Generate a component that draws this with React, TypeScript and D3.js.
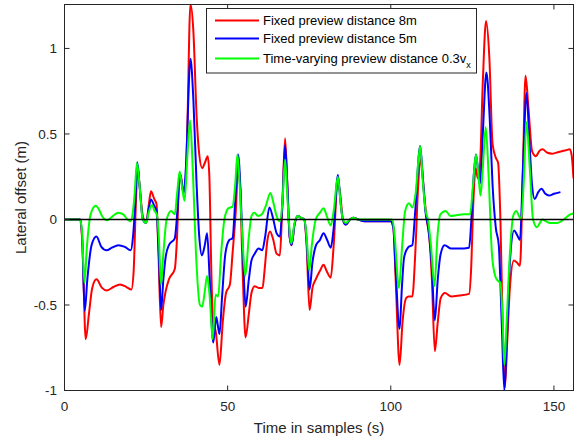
import React from "react";
import * as d3 from "d3";

const xTicks = [0, 50, 100, 150];
const yTicks = [-1, -0.5, 0, 0.5, 1];
const yTickLabels = ["-1", "-0.5", "0", "0.5", "1"];

const tRed = [0,4.8,5.5,6.5,7.5,8.5,9.8,11.5,13,15,17,19,20.5,21.2,21.8,22.4,23,24,25,25.8,26.5,27.5,28.2,28.8,29.6,30.3,31,32,33.8,34.5,35.2,35.6,36.3,37,37.6,38.6,39.5,40.5,41.3,42.2,43,43.9,44.4,45,45.6,46.3,47.5,48.5,49.5,50.7,51.5,52.5,53.3,53.8,54.6,55.5,56.5,57.3,58.3,59.5,60.7,61.3,62.2,63,64,65,66,66.7,67.6,68.3,69,69.6,70.5,71.5,72.5,73.5,74.2,75.1,76,77,78.3,79.4,80.3,81.6,82.5,83.7,84.5,85.3,86.2,87.5,88.5,90,92,100,100.8,101.5,102.7,103.6,104.7,105.5,106.6,107.5,108.4,109.2,110,111,111.8,112.6,113.5,114.4,115.3,116.6,118.5,121,124,124.6,125.3,126,126.7,127.3,128.2,129.2,130.2,131.2,132.2,132.9,133.6,134.4,135,135.6,136.5,137.7,138.6,139.6,140.4,141.3,142.2,143.3,144.5,145.5,146.5,148,149.5,151.5,153.7,154.8,155.4,156];
const vRed = [0,0,-0.15,-0.70,-0.55,-0.40,-0.35,-0.40,-0.415,-0.395,-0.38,-0.395,-0.41,-0.30,0.05,0.31,0.2,0.02,-0.02,0.08,0.165,0.12,0.09,-0.2,-0.63,-0.5,-0.42,-0.35,-0.29,-0.1,0.25,0.26,0.18,0.18,0.5,1.26,1.1,0.6,0.38,0.30,0.33,0.37,0.25,-0.3,-0.62,-0.65,-0.85,-0.6,-0.43,-0.38,-0.2,0.05,0.32,0.2,-0.3,-0.69,-0.55,-0.43,-0.39,-0.40,-0.40,-0.3,-0.12,-0.07,-0.12,-0.2,-0.21,0.05,0.475,0.2,-0.1,-0.15,-0.03,0.02,0.01,0.0,-0.15,-0.53,-0.4,-0.35,-0.30,-0.265,-0.30,-0.34,-0.15,0.22,0.15,0.0,-0.03,0.0,0.01,0.0,-0.01,-0.01,-0.05,-0.35,-0.85,-0.6,-0.46,-0.45,-0.45,-0.2,0.2,0.35,0.2,0.0,-0.1,-0.35,-0.77,-0.6,-0.46,-0.43,-0.45,-0.445,-0.435,-0.3,0.1,0.30,0.24,0.3,0.8,1.16,0.95,0.44,0.36,0.33,0.0,-0.7,-0.98,-0.75,-0.4,-0.24,-0.25,-0.27,0.2,0.84,0.65,0.40,0.37,0.40,0.41,0.39,0.385,0.395,0.405,0.41,0.38,0.24];

const tBlue = [0,4.8,5.4,6.2,7,8.3,9.8,11.3,12.9,14.5,16.5,18.5,20.3,21,21.7,22.3,23,24,25,25.8,26.5,27.5,28.2,28.9,29.6,30.3,31,32,33.8,34.6,35.4,36.5,37.2,38.6,39.5,40.5,41.3,42.1,43,43.7,44.5,45.6,46.5,47.5,48.3,49.3,50.5,51.5,52.3,53.2,54,54.7,55.5,56.5,57.3,58.3,59.5,60.6,61.5,62.8,64,65,66,66.8,67.6,68.3,69,69.6,70.5,71.5,72.5,73.5,74.2,75.1,76,77.1,78.3,79.4,80.5,81.6,82.5,83.8,84.6,85.3,86.2,87.5,88.5,90,92,100,100.8,101.5,102.7,103.4,104.1,105.5,106.6,107.5,109,109.8,110.6,111.5,112.5,113.5,114.4,115.3,116.5,118.5,121,124,124.7,125.4,126.1,126.8,127.4,128.2,129.3,130.3,131.2,132.2,133.1,134,134.8,135.6,136.5,137.8,138.7,139.6,140.5,141.6,142.5,143.3,144.1,145.2,146.2,147.4,148.5,150,152];
const vBlue = [0,0,-0.1,-0.535,-0.35,-0.15,-0.10,-0.16,-0.18,-0.165,-0.15,-0.16,-0.18,-0.1,0.1,0.335,0.2,0.0,-0.02,0.06,0.117,0.08,0.05,-0.2,-0.53,-0.35,-0.22,-0.15,-0.11,0.05,0.27,0.15,0.3,0.94,0.7,0.2,-0.1,-0.21,-0.15,-0.08,-0.35,-0.72,-0.57,-0.67,-0.45,-0.2,-0.12,-0.11,0.1,0.38,0.15,-0.2,-0.51,-0.35,-0.24,-0.20,-0.17,-0.18,-0.1,0.07,0.0,-0.08,-0.10,0.1,0.435,0.2,-0.1,-0.15,-0.03,0.02,0.01,0.0,-0.12,-0.41,-0.25,-0.15,-0.12,-0.08,-0.12,-0.165,-0.05,0.26,0.1,0.0,-0.03,0.0,0.01,0.0,-0.01,-0.01,-0.05,-0.3,-0.64,-0.4,-0.22,-0.16,-0.15,0.05,0.43,0.25,0.05,-0.05,-0.25,-0.59,-0.35,-0.2,-0.15,-0.17,-0.17,-0.165,0.0,0.25,0.38,0.28,0.21,0.5,0.86,0.6,0.2,-0.05,-0.15,-0.6,-1.0,-0.7,-0.25,-0.065,-0.09,-0.12,0.3,0.74,0.45,0.2,0.12,0.16,0.18,0.15,0.14,0.15,0.16];

const tGreen = [0,4.6,5.3,6.1,6.9,8,9.6,10.5,11.5,13,14.8,16.5,18,19.3,20.3,21,21.5,22.2,23,24,25,25.8,26.8,27.6,28.3,28.9,29.6,30.3,31.3,32.7,33.8,34.5,35.3,36.1,36.8,37.6,38.5,39.3,40.3,41.5,42.2,43,43.7,44.5,45.4,46.3,47.1,48,49,50.2,51.5,52.3,53,53.7,54.5,55.4,56.5,57.3,58.2,59.3,60.5,61.7,63.1,64,65,66,66.8,67.6,68.4,69.5,70.5,71.5,72.5,73.5,74.2,75,75.8,77,78.3,79.4,80.4,81.6,82.5,83.8,84.6,85.3,86.2,87.5,88.5,90,100.5,101.2,102.5,103.5,104.4,105.6,106.6,107.6,109,109.9,110.7,111.4,112.3,113.4,114.3,115.2,116.8,118.3,120,122.5,124.3,125.2,126.1,126.9,127.5,128.2,129.1,130,131,132,132.9,133.6,134.3,134.8,135.5,136.5,137.5,138.5,139.3,140,140.7,141.6,142.6,143.6,144.8,145.7,146.4,147.5,148.8,151,153,155,156];
const vGreen = [0,0,-0.05,-0.37,-0.15,0.03,0.08,0.06,0.02,-0.005,0.02,0.04,0.03,0.0,-0.01,0.05,0.15,0.33,0.2,0.0,-0.02,0.04,0.085,0.05,0.03,-0.1,-0.38,-0.2,0.0,0.05,0.03,0.15,0.28,0.18,0.11,0.35,0.58,0.3,-0.2,-0.5,-0.51,-0.42,-0.33,-0.45,-0.70,-0.44,-0.45,-0.2,0.0,0.065,0.075,0.2,0.38,0.2,-0.1,-0.33,-0.1,0.02,0.04,0.02,0.03,0.08,0.155,0.1,0.02,-0.01,0.1,0.35,0.1,-0.14,-0.02,0.02,0.01,0.0,-0.1,-0.30,-0.15,0.0,0.04,0.065,0.02,-0.035,0.05,0.25,0.1,0.0,-0.02,0.0,0.01,0.0,0.0,-0.1,-0.40,-0.15,0.05,0.095,0.07,0.15,0.43,0.2,0.05,0.0,-0.15,-0.39,-0.1,0.03,0.05,0.02,0.025,0.03,0.03,0.2,0.38,0.25,0.14,0.3,0.54,0.25,-0.2,-0.33,-0.36,-0.37,-0.6,-0.85,-0.6,-0.2,0.02,0.05,0.02,0.0,0.2,0.57,0.3,0.0,-0.045,-0.02,0.0,-0.01,-0.02,-0.02,0.0,0.03,0.035];

const seriesNames = ["Fixed preview distance 8m", "Fixed preview distance 5m", "Time-varying preview distance 0.3v"];
const seriesColors = ["#ff0000", "#0000ff", "#00ff00"];

const W = 576, H = 440;
const L = 64.5, R = 573.5, T = 4.5, B = 390.5;
const font = "Arial, 'Liberation Sans', Helvetica, sans-serif";
const axisColor = "#262626";

export default function App() {
  const x = d3.scaleLinear().domain([0, 156]).range([L, R]);
  const y = d3.scaleLinear().domain([-1, 1.257]).range([B, T]);
  const line = d3.line<[number, number]>()
    .x(d => x(d[0])).y(d => y(d[1])).curve(d3.curveMonotoneX);
  const zip = (t: number[], v: number[]) => t.map((ti, i) => [ti, v[i]] as [number, number]);
  const series = [zip(tRed, vRed), zip(tBlue, vBlue), zip(tGreen, vGreen)];
  const tick = 5;

  return (
    <svg width={W} height={H} style={{ position: "absolute", left: 0, top: 0, background: "#fff" }} fontFamily={font}>
      <rect x={0} y={0} width={W} height={H} fill="#fff" />
      <defs>
        <clipPath id="plotclip">
          <rect x={L} y={T} width={R - L} height={B - T} />
        </clipPath>
      </defs>
      <g clipPath="url(#plotclip)">
        {series.map((s, i) => (
          <path key={i} d={line(s) || ""} fill="none" stroke={seriesColors[i]} strokeWidth={2} strokeLinejoin="round" />
        ))}
        <line x1={x(0)} x2={x(156)} y1={y(0)} y2={y(0)} stroke="#000" strokeWidth={1.5} />
      </g>
      {/* axes box */}
      <rect x={L} y={T} width={R - L} height={B - T} fill="none" stroke={axisColor} strokeWidth={1} />
      {xTicks.map(v => (
        <g key={"x" + v}>
          <line x1={x(v)} x2={x(v)} y1={B} y2={B - tick} stroke={axisColor} />
          <line x1={x(v)} x2={x(v)} y1={T} y2={T + tick} stroke={axisColor} />
          <text x={x(v)} y={411} fontSize={13.5} textAnchor="middle" fill={axisColor}>{v}</text>
        </g>
      ))}
      {yTicks.map((v, i) => (
        <g key={"y" + v}>
          <line x1={L} x2={L + tick} y1={y(v)} y2={y(v)} stroke={axisColor} />
          <line x1={R} x2={R - tick} y1={y(v)} y2={y(v)} stroke={axisColor} />
          <text x={57} y={y(v)} dy="0.36em" fontSize={13.5} textAnchor="end" fill={axisColor}>{yTickLabels[i]}</text>
        </g>
      ))}
      <text x={(L + R) / 2} y={433} fontSize={15} textAnchor="middle" fill={axisColor}>Time in samples (s)</text>
      <text transform={`translate(21,${(T + B) / 2}) rotate(-90)`} dy="0.36em" fontSize={15} textAnchor="middle" fill={axisColor}>Lateral offset (m)</text>
      {/* legend */}
      <rect x={206.5} y={8.5} width={270} height={64.5} fill="#fff" stroke={axisColor} strokeWidth={1} />
      {seriesNames.map((n, i) => {
        const ly = [20.5, 38.5, 58.5][i];
        return (
          <g key={n}>
            <line x1={215} x2={259} y1={ly} y2={ly} stroke={seriesColors[i]} strokeWidth={2} />
            <text x={263} y={ly} dy="0.36em" fontSize={13} fill="#000">
              {n}
              {i === 2 ? <tspan fontSize={9} dy={5}>x</tspan> : null}
            </text>
          </g>
        );
      })}
    </svg>
  );
}
